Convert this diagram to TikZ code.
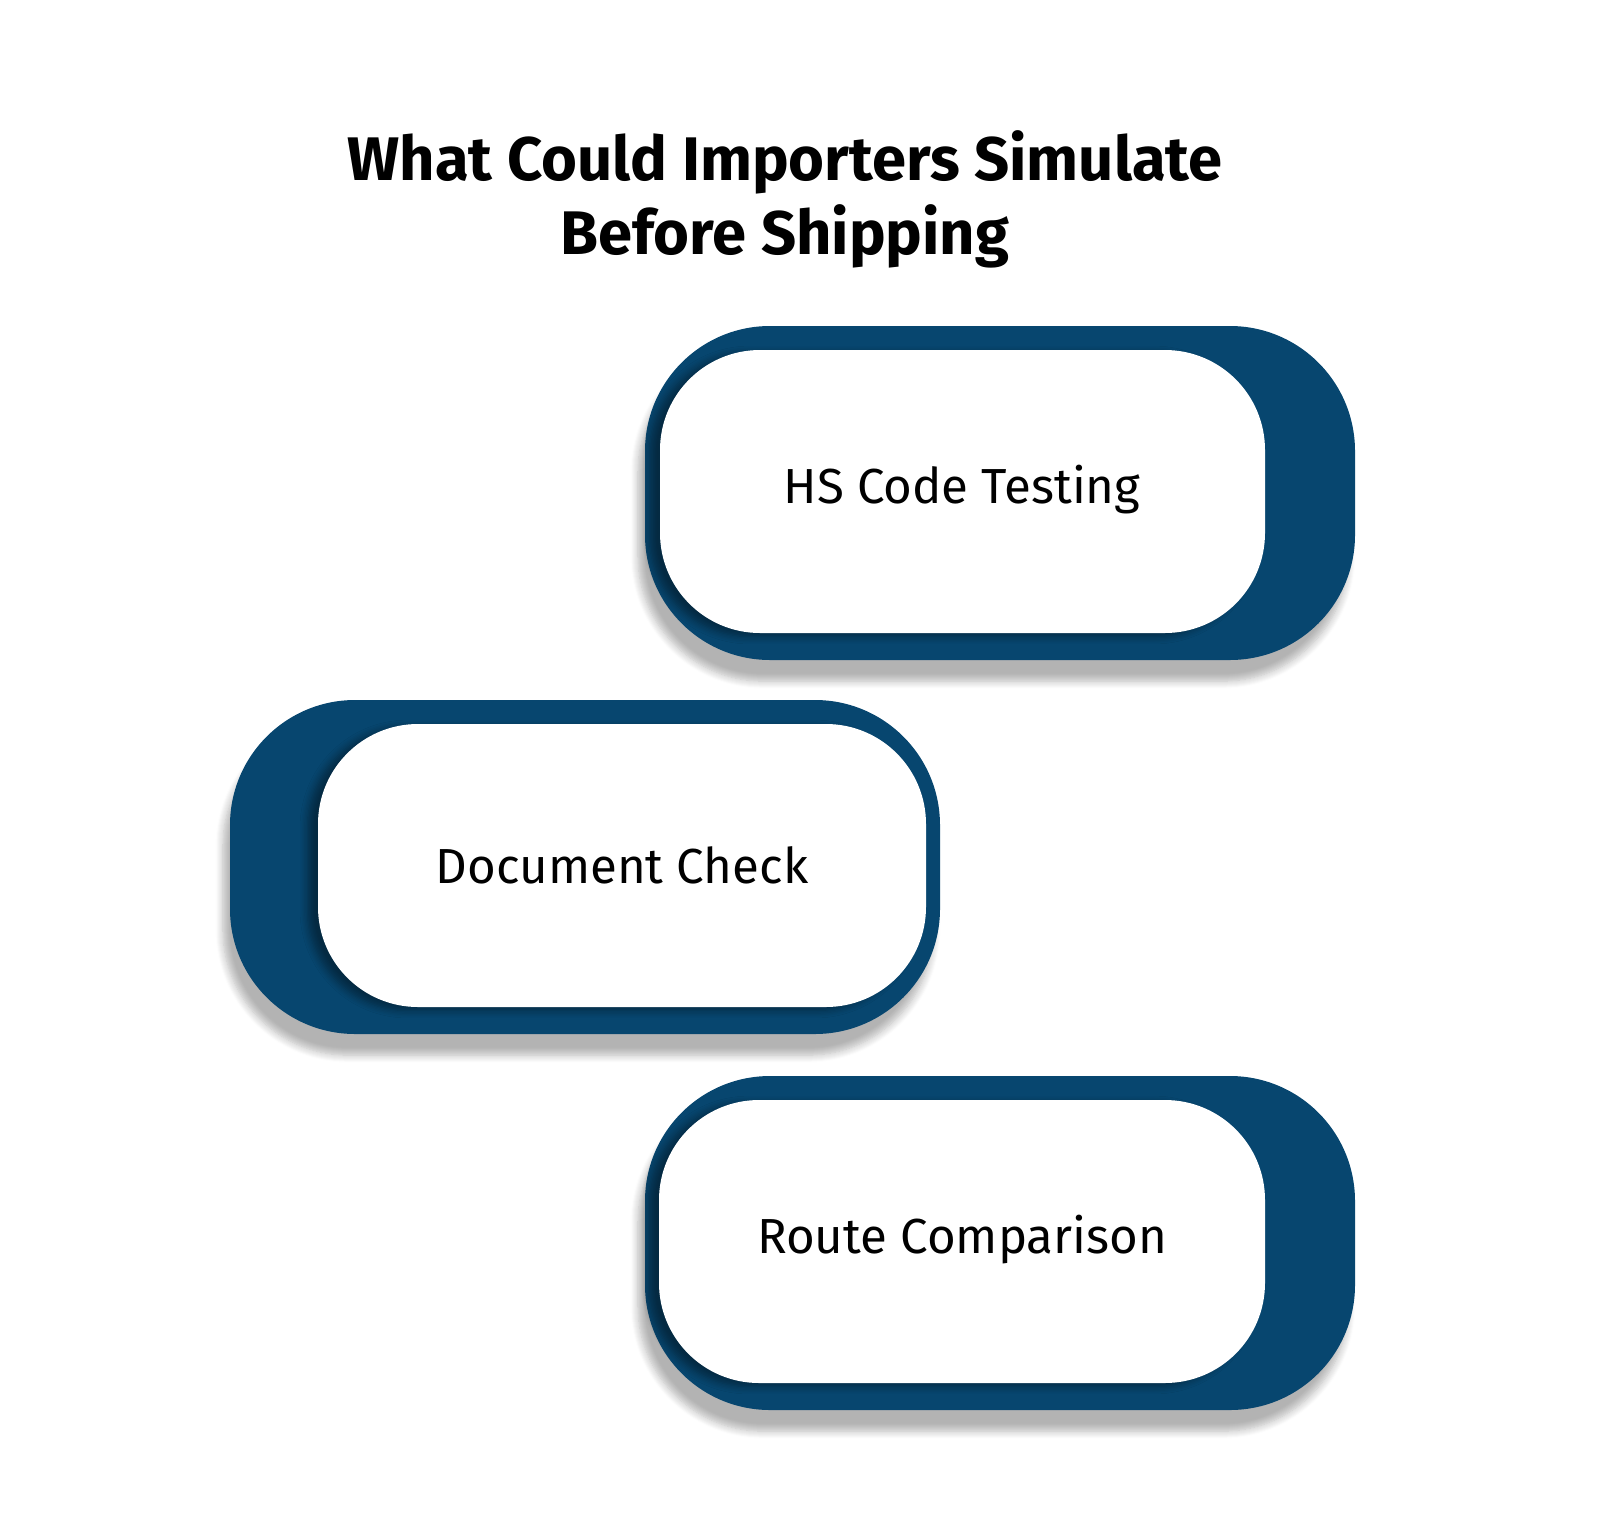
\documentclass[tikz,border=0pt]{standalone}
\usepackage{fontspec}
\setmainfont{Fira Sans}
\usetikzlibrary{shadows.blur}
\definecolor{navy}{HTML}{07466F}
\begin{document}
\begin{tikzpicture}
[
  x=0.01cm, y=-0.01cm,
  outer/.style={fill=navy,rounded corners=1.25cm,blur shadow={shadow xshift=-2pt,shadow yshift=-6pt,shadow blur steps=8,shadow opacity=30}},
  inner/.style={fill=white,rounded corners=1.0cm,blur shadow={shadow xshift=-3pt,shadow yshift=-1pt,shadow blur steps=6,shadow opacity=40}},
  lbl/.style={font=\fontsize{14}{17}\selectfont}
]
\useasboundingbox (0,0) rectangle (1600,1518);

\node[font=\fontsize{17.5}{21}\selectfont\bfseries,align=center](title) at (785,199)
  {What Could Importers Simulate\\Before Shipping};

\fill[outer] (645,326) rectangle (1355,660);
\fill[inner] (660,350) rectangle (1265,633);
\node[lbl](hs) at (962,490) {HS Code Testing};

\fill[outer] (230,700) rectangle (940,1034);
\fill[inner] (318,724) rectangle (926,1007);
\node[lbl](doc) at (622,865) {Document Check};

\fill[outer] (645,1076) rectangle (1355,1410);
\fill[inner] (659,1100) rectangle (1265,1383);
\node[lbl](route) at (962,1240) {Route Comparison};

\end{tikzpicture}
\end{document}
